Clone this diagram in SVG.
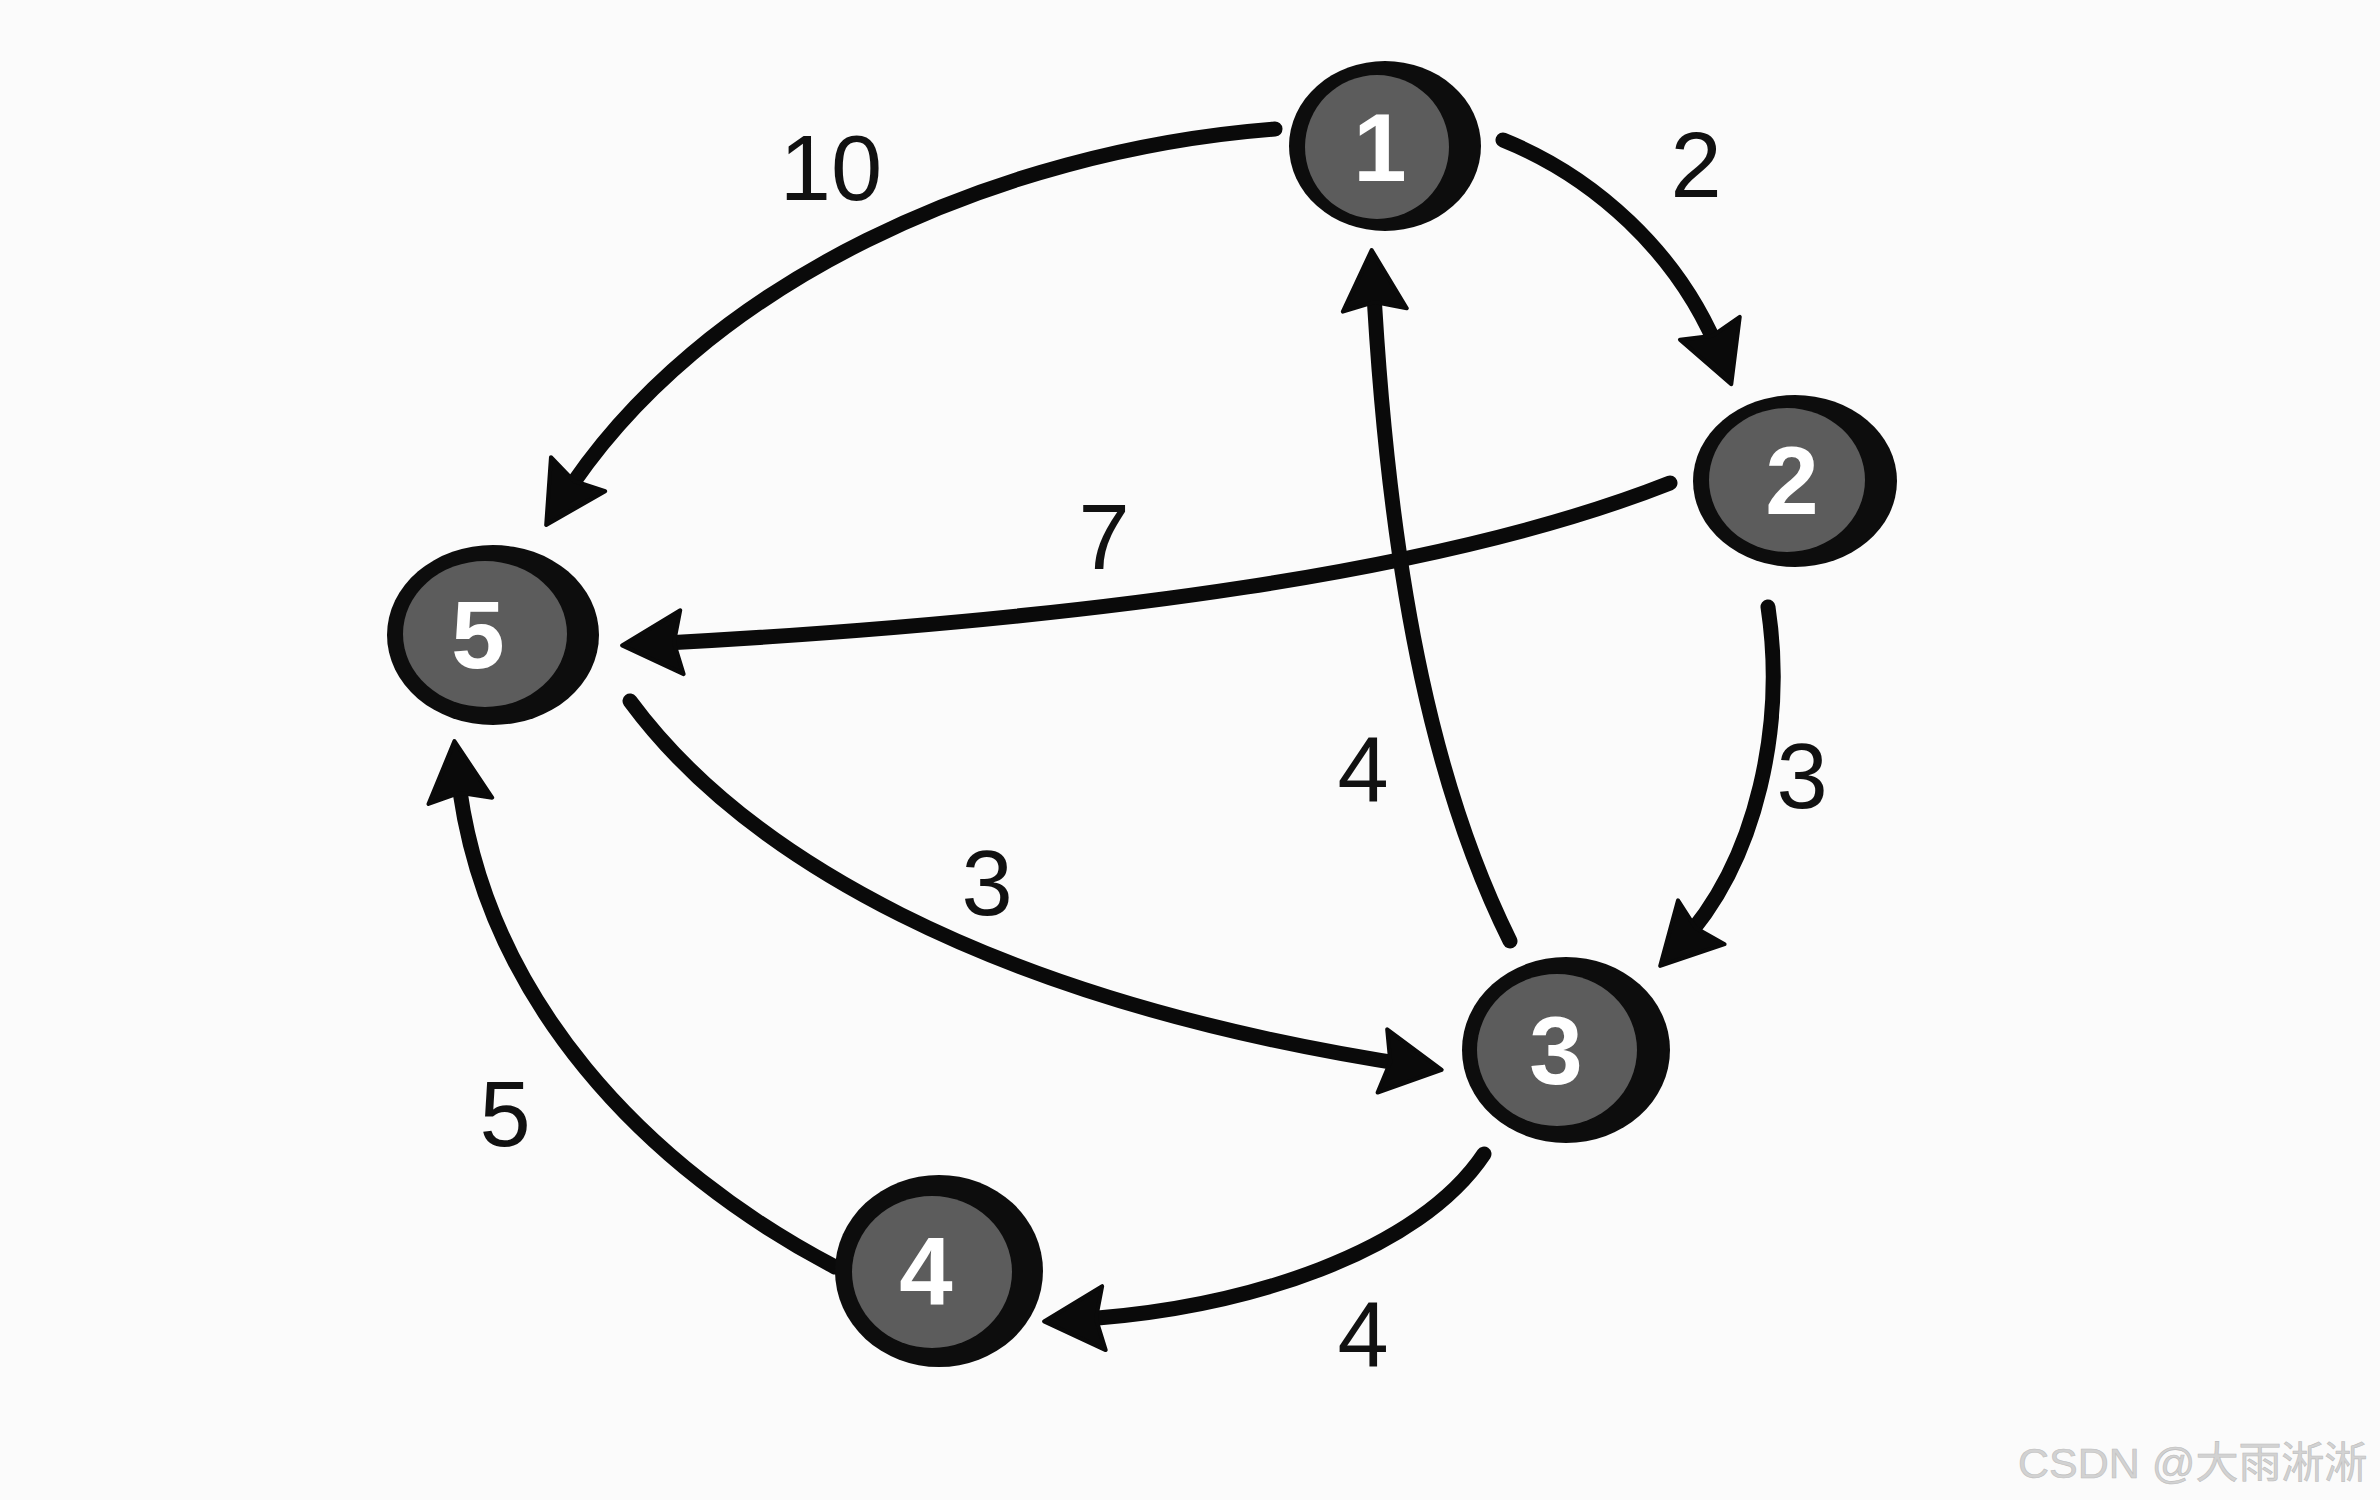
<svg xmlns="http://www.w3.org/2000/svg" width="2380" height="1500" viewBox="0 0 2380 1500">
<style>
.edge{fill:none;stroke:#0a0a0a;stroke-width:15;stroke-linecap:round;marker-end:url(#ah)}
.lbl{font-family:"Liberation Sans",Arial,sans-serif;font-size:92px;fill:#111;text-anchor:middle}
.ring{fill:#0d0d0d}
.core{fill:#5c5c5c}
.num{font-family:"Liberation Sans",Arial,sans-serif;font-weight:bold;font-size:96px;fill:#fff;text-anchor:middle}
.wm{font-family:"Liberation Sans","Noto Sans CJK SC",sans-serif;font-size:43px;fill:#d2d2d2;stroke:#bdbdbd;stroke-width:0.6}
</style>
<defs>
<marker id="ah" markerUnits="userSpaceOnUse" markerWidth="80" markerHeight="80" viewBox="-45 -40 80 80" refX="0" refY="0" orient="auto">
<path d="M-34,-32 L26,0 L-34,32 L-26,0 Z" fill="#0a0a0a" stroke="#0a0a0a" stroke-width="4" stroke-linejoin="round"/>
</marker>
</defs>
<rect width="2380" height="1500" fill="#fbfbfb"/>
<g id="connectors">
<path id="e1-5" class="edge" d="M1275,129 C1000,150 700,280 560,503"/>
<path id="e1-2" class="edge" d="M1503,140 C1590,175 1680,250 1722,360"/>
<path id="e2-5" class="edge" d="M1670,483 C1450,570 1100,620 648,644"/>
<path id="e3-1" class="edge" d="M1510,941 C1440,800 1390,600 1373,276"/>
<path id="e2-3" class="edge" d="M1768,607 C1785,720 1760,860 1678,947"/>
<path id="e5-3" class="edge" d="M630,701 C740,850 980,1000 1416,1066"/>
<path id="e3-4" class="edge" d="M1484,1154 C1420,1250 1250,1310 1070,1320"/>
<path id="e4-5" class="edge" d="M835,1267 C650,1170 480,1000 457,767"/>
</g>
<g id="edge-labels">
<text class="lbl" x="831" y="200">10</text>
<text class="lbl" x="1696" y="197">2</text>
<text class="lbl" x="1104" y="569">7</text>
<text class="lbl" x="1363" y="801">4</text>
<text class="lbl" x="1802" y="808">3</text>
<text class="lbl" x="987" y="915">3</text>
<text class="lbl" x="505" y="1146">5</text>
<text class="lbl" x="1363" y="1366">4</text>
</g>
<g id="node1">
<ellipse class="ring" cx="1385" cy="146" rx="96" ry="85"/>
<ellipse class="core" cx="1377" cy="147" rx="72" ry="72"/>
<text class="num" x="1380" y="181">1</text>
</g>
<g id="node2">
<ellipse class="ring" cx="1795" cy="481" rx="102" ry="86"/>
<ellipse class="core" cx="1787" cy="480" rx="78" ry="72"/>
<text class="num" x="1792" y="514">2</text>
</g>
<g id="node5">
<ellipse class="ring" cx="493" cy="635" rx="106" ry="90"/>
<ellipse class="core" cx="485" cy="634" rx="82" ry="73"/>
<text class="num" x="478" y="668">5</text>
</g>
<g id="node3">
<ellipse class="ring" cx="1566" cy="1050" rx="104" ry="93"/>
<ellipse class="core" cx="1557" cy="1050" rx="80" ry="76"/>
<text class="num" x="1556" y="1084">3</text>
</g>
<g id="node4">
<ellipse class="ring" cx="939" cy="1271" rx="104" ry="96"/>
<ellipse class="core" cx="932" cy="1272" rx="80" ry="76"/>
<text class="num" x="926" y="1305">4</text>
</g>
<text class="wm" x="2018" y="1478">CSDN @大雨淅淅</text>
</svg>
